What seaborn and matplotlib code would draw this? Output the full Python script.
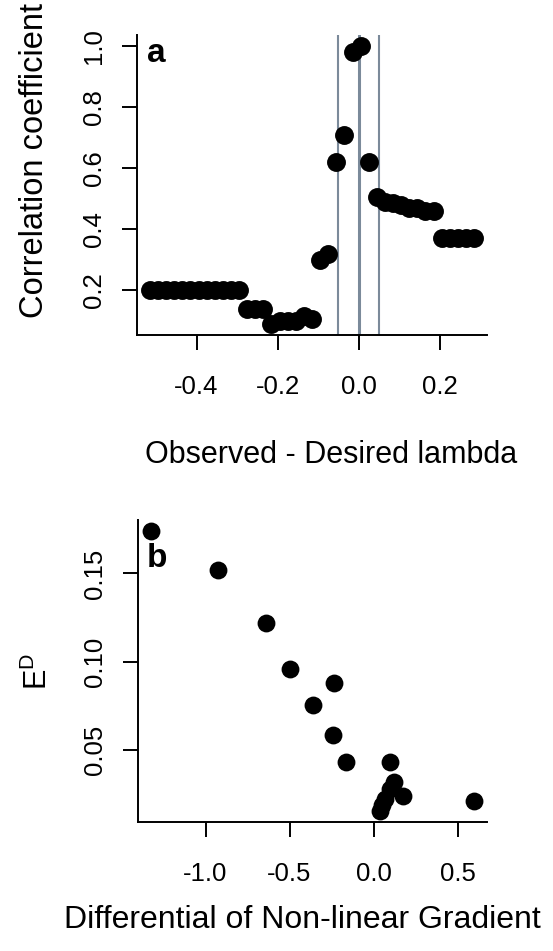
import matplotlib
matplotlib.use("Agg")
import matplotlib.pyplot as plt
import seaborn as sns
import pandas as pd
from matplotlib.ticker import FormatStrFormatter

# ---- Data panel a ----
lambda_diff = [-0.515, -0.495, -0.475, -0.455, -0.435, -0.415, -0.395, -0.375,
               -0.355, -0.335, -0.315, -0.295, -0.275, -0.255, -0.235, -0.215,
               -0.195, -0.175, -0.155, -0.135, -0.115, -0.095, -0.075, -0.055,
               -0.035, -0.015, 0.005, 0.025, 0.045, 0.065, 0.085, 0.105, 0.125,
               0.145, 0.165, 0.185, 0.205, 0.225, 0.245, 0.265, 0.285]
corr_coef = [0.20, 0.20, 0.20, 0.20, 0.20, 0.20, 0.20, 0.20, 0.20, 0.20, 0.20,
             0.20, 0.14, 0.14, 0.14, 0.09, 0.10, 0.10, 0.10, 0.115, 0.105,
             0.30, 0.32, 0.62, 0.71, 0.98, 1.00, 0.62, 0.505, 0.49, 0.485,
             0.48, 0.47, 0.47, 0.46, 0.46, 0.37, 0.37, 0.37, 0.37, 0.37]
vlines_a = [-0.05, 0.0, 0.05]
xticks_a = [-0.4, -0.2, 0.0, 0.2]
yticks_a = [0.2, 0.4, 0.6, 0.8, 1.0]

# ---- Data panel b ----
grad_diff = [-1.325, -0.923, -0.639, -0.497, -0.361, -0.237, -0.243, -0.166,
             0.095, 0.124, 0.095, 0.178, 0.065, 0.053, 0.036, 0.598]
ed_vals = [0.174, 0.152, 0.122, 0.096, 0.0754, 0.0876, 0.0582, 0.043,
           0.043, 0.0316, 0.0277, 0.0237, 0.022, 0.0186, 0.0153, 0.0206]
xticks_b = [-1.0, -0.5, 0.0, 0.5]
yticks_b = [0.05, 0.10, 0.15]

df_a = pd.DataFrame({"x": lambda_diff, "y": corr_coef})
df_b = pd.DataFrame({"x": grad_diff, "y": ed_vals})

sns.set_theme(style="white")
plt.rcParams["font.family"] = ["Liberation Sans", "DejaVu Sans"]
plt.rcParams["axes.unicode_minus"] = False
plt.rcParams["mathtext.fontset"] = "custom"
plt.rcParams["mathtext.rm"] = "Liberation Sans"
for k in ["text.color", "axes.labelcolor", "xtick.color", "ytick.color"]:
    plt.rcParams[k] = "black"

W, H = 553, 951
fig = plt.figure(figsize=(W / 100, H / 100), dpi=100)

def px_axes(l, t, r, b):
    return fig.add_axes([l / W, 1 - b / H, (r - l) / W, (b - t) / H])

ax_a = px_axes(137, 35, 487, 335)
ax_b = px_axes(138, 520, 487, 822)

tick_fs = 18.5
lab_fs = 22
grey = "#7b8a9a"

def r_range(vals):
    lo, hi = min(vals), max(vals)
    d = (hi - lo) * 0.04
    return lo - d, hi + d

def style_axes(ax, xt, yt, xfmt, yfmt):
    for s in ["top", "right"]:
        ax.spines[s].set_visible(False)
    for s in ["left", "bottom"]:
        ax.spines[s].set_color("black")
        ax.spines[s].set_linewidth(1.4)
    ax.set_xticks(xt)
    ax.set_yticks(yt)
    ax.xaxis.set_major_formatter(FormatStrFormatter(xfmt))
    ax.yaxis.set_major_formatter(FormatStrFormatter(yfmt))
    ax.tick_params(axis="both", direction="out", length=11, width=1.4,
                   colors="black", labelcolor="black", labelsize=tick_fs,
                   left=True, bottom=True)
    ax.tick_params(axis="x", pad=18)
    ax.tick_params(axis="y", pad=11)
    for lab in ax.get_yticklabels():
        lab.set_rotation(90)
        lab.set_va("center")
    ax.grid(False)
    ax.set_facecolor("white")

# Panel a
for v in vlines_a:
    ax_a.axvline(v, color=grey, lw=2.2 if v == 0 else 1.5, zorder=1)
sns.scatterplot(data=df_a, x="x", y="y", ax=ax_a, color="black", s=185,
                edgecolor="black", linewidth=0, zorder=3, legend=False)
ax_a.set_xlim(*r_range(lambda_diff))
ax_a.set_ylim(*r_range(corr_coef))
style_axes(ax_a, xticks_a, yticks_a, "%.1f", "%.1f")
ax_a.set_xlabel("Observed - Desired lambda", fontsize=lab_fs, va="center")
ax_a.xaxis.set_label_coords(0.555, -0.40)
ax_a.set_ylabel("Correlation coefficient", fontsize=23.5, va="center")
ax_a.yaxis.set_label_coords(-0.292, 0.58)
ax_a.text(10 / 350, 1 - 27 / 300, "a", transform=ax_a.transAxes,
          fontsize=24, fontweight="bold", ha="left", va="baseline")

# Panel b
sns.scatterplot(data=df_b, x="x", y="y", ax=ax_b, color="black", s=165,
                edgecolor="black", linewidth=0, zorder=3, legend=False)
ax_b.set_xlim(*r_range(grad_diff))
ax_b.set_ylim(*r_range(ed_vals))
style_axes(ax_b, xticks_b, yticks_b, "%.1f", "%.2f")
ax_b.set_xlabel("Differential of Non-linear Gradient", fontsize=23, va="center")
ax_b.xaxis.set_label_coords(0.47, -0.325)
ax_b.set_ylabel(r"$\mathregular{E^D}$", fontsize=lab_fs, va="center")
ax_b.yaxis.set_label_coords(-0.285, 0.5)
ax_b.text(9 / 349, 1 - 47 / 302, "b", transform=ax_b.transAxes,
          fontsize=24, fontweight="bold", ha="left", va="baseline")

fig.savefig("out.png", dpi=100, facecolor="white")
